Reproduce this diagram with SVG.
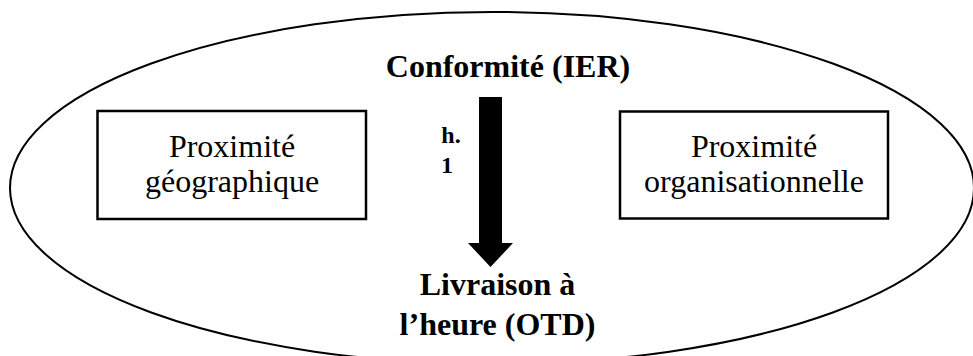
<svg xmlns="http://www.w3.org/2000/svg" width="973" height="356" viewBox="0 0 973 356">
<style>
.reg{font-family:"Liberation Serif","Times New Roman",serif;font-size:32px;fill:#000;text-anchor:middle}
.bold{font-family:"Liberation Serif","Times New Roman",serif;font-weight:bold;fill:#000;text-anchor:middle}
.box{fill:#fff;stroke:#000;stroke-width:2.5}
</style>
<rect width="973" height="356" fill="#fff"/>
<g id="ellipse"><ellipse cx="492" cy="188" rx="482" ry="176" fill="none" stroke="#000" stroke-width="2"/></g>
<g id="conformite"><text class="bold" x="508" y="77" font-size="32">Conformité (IER)</text></g>
<g id="prox-geo">
<rect class="box" x="97.5" y="111" width="268.5" height="108"/>
<text class="reg" x="232" y="157">Proximité</text>
<text class="reg" x="232" y="192">géographique</text>
</g>
<g id="prox-org">
<rect class="box" x="620" y="111.5" width="268" height="107"/>
<text class="reg" x="754" y="157">Proximité</text>
<text class="reg" x="754" y="192">organisationnelle</text>
</g>
<g id="livraison">
<text class="bold" x="497.5" y="295" font-size="32">Livraison à</text>
<text class="bold" x="497.5" y="335" font-size="32">l’heure (OTD)</text>
</g>
<g id="connectors">
<polygon points="479,97 502,97 502,243 513,243 490.5,267 468,243 479,243" fill="#000"/>
<text class="bold" x="451" y="143" font-size="24">h.</text>
<text class="bold" x="447" y="173" font-size="24">1</text>
</g>
</svg>
